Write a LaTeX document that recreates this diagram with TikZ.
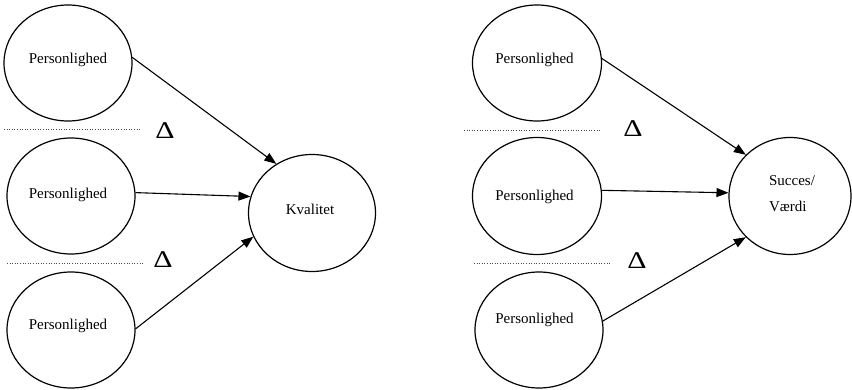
\documentclass[tikz,border=0pt]{standalone}
\usepackage{fontspec}
\setmainfont{Liberation Serif}
\usetikzlibrary{shapes.geometric,arrows.meta}
\newcommand{\wdelta}{\scalebox{1.25}[1]{Δ}}
\tikzset{
  oval/.style={draw,ellipse,line width=1.2pt,inner sep=0pt},
  lbl/.style={font=\fontsize{15}{17}\selectfont,inner sep=0pt},
  delta/.style={font=\fontsize{24}{26}\selectfont,inner sep=0pt},
  sep/.style={dotted,line width=0.6pt,draw=black!70},
  conn/.style={line width=1.1pt,-{Triangle[length=12pt,width=9pt]}}
}
\begin{document}
\begin{tikzpicture}[x=1pt,y=-1pt]
\useasboundingbox (0,0) rectangle (852,390);
% left group
\node[oval,minimum width=128pt,minimum height=116pt] (l1) at (68,63) {};
\node[oval,minimum width=128pt,minimum height=116pt] (l2) at (71,196) {};
\node[oval,minimum width=128pt,minimum height=116pt] (l3) at (71,330) {};
\node[oval,minimum width=127pt,minimum height=117pt] (k) at (312,213) {};
\node[lbl] (tl1) at (68,60) {Personlighed};
\node[lbl] (tl2) at (68,195) {Personlighed};
\node[lbl] (tl3) at (68,326) {Personlighed};
\node[lbl] (tk) at (310,209) {Kvalitet};
\coordinate (sa1) at (4,129); \coordinate (sa2) at (141,129);
\coordinate (sb1) at (7,263); \coordinate (sb2) at (143,263);
\draw[sep] (sa1) -- (sa2);
\draw[sep] (sb1) -- (sb2);
\node[delta] (d1) at (165,131) {\wdelta};
\node[delta] (d2) at (163,260) {\wdelta};
\draw[conn] (l1.5) -- (k.126);
\draw[conn] (l2.3) -- (k.165);
\draw[conn] (l3.1) -- (k.202);
% right group
\node[oval,minimum width=129pt,minimum height=116pt] (r1) at (537,63) {};
\node[oval,minimum width=129pt,minimum height=117pt] (r2) at (537,196) {};
\node[oval,minimum width=128pt,minimum height=116pt] (r3) at (539,330) {};
\node[oval,minimum width=122pt,minimum height=117pt] (s) at (790,196) {};
\node[lbl] (tr1) at (534.5,60) {Personlighed};
\node[lbl] (tr2) at (534.5,197) {Personlighed};
\node[lbl] (tr3) at (534.5,320) {Personlighed};
\node[lbl,align=left] (ts) at (792,194) {Succes/\\[9pt]Værdi};
\coordinate (sc1) at (464,130); \coordinate (sc2) at (601,130);
\coordinate (sd1) at (474,263); \coordinate (sd2) at (610,263);
\draw[sep] (sc1) -- (sc2);
\draw[sep] (sd1) -- (sd2);
\node[delta] (d3) at (633,129) {\wdelta};
\node[delta] (d4) at (637,261) {\wdelta};
\draw[conn] (r1.4) -- (s.137);
\draw[conn] (r2.5) -- (s.177);
\draw[conn] (r3.8) -- (s.223);
\end{tikzpicture}
\end{document}
